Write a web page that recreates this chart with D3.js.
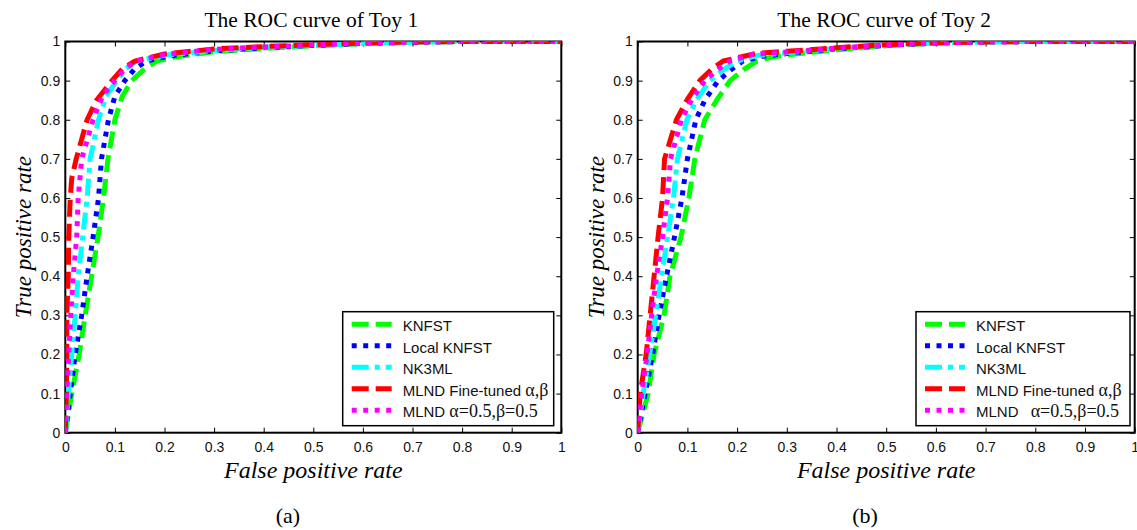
<!DOCTYPE html>
<html>
<head>
<meta charset="utf-8">
<script src="https://cdn.jsdelivr.net/npm/d3@7"></script>
<style>
body { margin: 0; background: #fff; }
</style>
</head>
<body>
<div id="roc"></div>
<script>
// legend names (sans part + greek serif part)
var methods = ["KNFST", "Local KNFST", "NK3ML", "MLND Fine-tuned ", "MLND "];
var methodGreek = ["", "", "", "α,β", "α=0.5,β=0.5"];
var colors = ["#00ff00", "#0000ff", "#00ffff", "#ff0000", "#ff00ff"];
var dashes = ["17,7", "5,6.5", "17,6,5,6", "17,7", "5,6.5"];
var tickVals = [0, 0.1, 0.2, 0.3, 0.4, 0.5, 0.6, 0.7, 0.8, 0.9, 1];

// Toy 1 : false positive rate / true positive rate per method
var toy1_knfst_fpr = [0, 0.013, 0.028, 0.040, 0.053, 0.066, 0.077, 0.086, 0.100, 0.115, 0.134, 0.160, 0.184, 0.22, 0.30, 0.40, 0.50, 0.60, 0.70, 0.80, 1];
var toy1_knfst_tpr = [0, 0.1, 0.2, 0.3, 0.4, 0.5, 0.6, 0.7, 0.8, 0.86, 0.9, 0.93, 0.95, 0.96, 0.974, 0.982, 0.989, 0.994, 0.998, 1, 1];
var toy1_local_fpr = [0, 0.010, 0.020, 0.033, 0.044, 0.056, 0.067, 0.073, 0.087, 0.100, 0.120, 0.140, 0.164, 0.21, 0.30, 0.40, 0.50, 0.60, 0.70, 0.80, 1];
var toy1_local_tpr = [0, 0.1, 0.2, 0.3, 0.4, 0.5, 0.6, 0.7, 0.8, 0.86, 0.9, 0.93, 0.95, 0.963, 0.976, 0.984, 0.99, 0.995, 0.998, 1, 1];
var toy1_nk3ml_fpr = [0, 0.006, 0.013, 0.020, 0.026, 0.035, 0.044, 0.050, 0.067, 0.082, 0.104, 0.122, 0.144, 0.20, 0.30, 0.40, 0.50, 0.60, 0.70, 0.80, 1];
var toy1_nk3ml_tpr = [0, 0.1, 0.2, 0.3, 0.4, 0.5, 0.6, 0.7, 0.8, 0.86, 0.9, 0.93, 0.95, 0.965, 0.977, 0.985, 0.99, 0.995, 0.998, 1, 1];
var toy1_mlndft_fpr = [0, 0.002, 0.003, 0.003, 0.006, 0.007, 0.010, 0.013, 0.022, 0.044, 0.063, 0.094, 0.115, 0.140, 0.20, 0.30, 0.40, 0.50, 0.60, 0.70, 0.80, 1];
var toy1_mlndft_tpr = [0, 0.1, 0.2, 0.3, 0.4, 0.5, 0.6, 0.65, 0.7, 0.8, 0.85, 0.9, 0.93, 0.95, 0.968, 0.981, 0.987, 0.992, 0.996, 0.999, 1, 1];
var toy1_mlnd_fpr = [0, 0.003, 0.007, 0.011, 0.016, 0.023, 0.026, 0.033, 0.056, 0.075, 0.100, 0.120, 0.143, 0.20, 0.30, 0.40, 0.50, 0.60, 0.70, 0.80, 1];
var toy1_mlnd_tpr = [0, 0.1, 0.2, 0.3, 0.4, 0.5, 0.6, 0.7, 0.8, 0.86, 0.9, 0.93, 0.95, 0.967, 0.98, 0.986, 0.991, 0.996, 0.999, 1, 1];

// Toy 2
var toy2_knfst_fpr = [0, 0.021, 0.033, 0.053, 0.065, 0.087, 0.103, 0.115, 0.135, 0.159, 0.186, 0.215, 0.24, 0.27, 0.30, 0.40, 0.50, 0.60, 0.70, 0.80, 1];
var toy2_knfst_tpr = [0, 0.1, 0.2, 0.3, 0.4, 0.5, 0.6, 0.7, 0.8, 0.85, 0.9, 0.93, 0.95, 0.96, 0.966, 0.979, 0.989, 0.996, 0.999, 1, 1];
var toy2_local_fpr = [0, 0.015, 0.030, 0.043, 0.058, 0.074, 0.089, 0.100, 0.117, 0.135, 0.162, 0.190, 0.212, 0.25, 0.30, 0.40, 0.50, 0.60, 0.70, 0.80, 1];
var toy2_local_tpr = [0, 0.1, 0.2, 0.3, 0.4, 0.5, 0.6, 0.7, 0.8, 0.85, 0.9, 0.93, 0.95, 0.962, 0.969, 0.981, 0.99, 0.996, 0.999, 1, 1];
var toy2_nk3ml_fpr = [0, 0.011, 0.024, 0.036, 0.048, 0.060, 0.072, 0.080, 0.099, 0.118, 0.145, 0.175, 0.200, 0.24, 0.30, 0.40, 0.50, 0.60, 0.70, 0.80, 1];
var toy2_nk3ml_tpr = [0, 0.1, 0.2, 0.3, 0.4, 0.5, 0.6, 0.7, 0.8, 0.85, 0.9, 0.93, 0.95, 0.964, 0.971, 0.982, 0.991, 0.996, 0.999, 1, 1];
var toy2_mlndft_fpr = [0, 0.005, 0.017, 0.025, 0.033, 0.041, 0.050, 0.054, 0.078, 0.099, 0.125, 0.150, 0.172, 0.24, 0.30, 0.40, 0.50, 0.60, 0.70, 0.80, 1];
var toy2_mlndft_tpr = [0, 0.1, 0.2, 0.3, 0.4, 0.5, 0.6, 0.7, 0.8, 0.85, 0.9, 0.93, 0.95, 0.97, 0.975, 0.984, 0.992, 0.997, 0.999, 1, 1];
var toy2_mlnd_fpr = [0, 0.008, 0.019, 0.028, 0.038, 0.050, 0.060, 0.066, 0.088, 0.108, 0.135, 0.163, 0.186, 0.23, 0.30, 0.40, 0.50, 0.60, 0.70, 0.80, 1];
var toy2_mlnd_tpr = [0, 0.1, 0.2, 0.3, 0.4, 0.5, 0.6, 0.7, 0.8, 0.85, 0.9, 0.93, 0.95, 0.967, 0.973, 0.983, 0.991, 0.996, 0.999, 1, 1];

function zipCurve(fpr, tpr) {
    return fpr.map(function (f, i) { return [f, tpr[i]]; });
}

var panels = [
    { title: "The ROC curve of Toy 1", tag: "(a)", left: 65.3, right: 561.3, tagX: 288, legLeft: 342.7, legW: 211, greekGap: [0, 0, 0, 0, 0],
      curves: [zipCurve(toy1_knfst_fpr, toy1_knfst_tpr), zipCurve(toy1_local_fpr, toy1_local_tpr), zipCurve(toy1_nk3ml_fpr, toy1_nk3ml_tpr),
               zipCurve(toy1_mlndft_fpr, toy1_mlndft_tpr), zipCurve(toy1_mlnd_fpr, toy1_mlnd_tpr)] },
    { title: "The ROC curve of Toy 2", tag: "(b)", left: 637.7, right: 1134.7, tagX: 865, legLeft: 916, legW: 214, greekGap: [0, 0, 0, 0, 8],
      curves: [zipCurve(toy2_knfst_fpr, toy2_knfst_tpr), zipCurve(toy2_local_fpr, toy2_local_tpr), zipCurve(toy2_nk3ml_fpr, toy2_nk3ml_tpr),
               zipCurve(toy2_mlndft_fpr, toy2_mlndft_tpr), zipCurve(toy2_mlnd_fpr, toy2_mlnd_tpr)] }
];

var top_ = 41.5, bottom_ = 432.7;
var fmt = d3.format("~g");
var serif = "'Liberation Serif', 'Times New Roman', serif";

var svg = d3.select("#roc")
    .append("svg")
    .attr("width", 1137)
    .attr("height", 530)
    .style("display", "block");

panels.forEach(function (p, k) {

    var x = d3.scaleLinear().domain([0, 1]).range([p.left, p.right]);
    var y = d3.scaleLinear().domain([0, 1]).range([bottom_, top_]);
    var g = svg.append("g");

    // axes with inward ticks on all four sides
    g.append("g")
        .attr("transform", `translate(0, ${bottom_})`)
        .call(d3.axisBottom(x).tickValues(tickVals).tickFormat(fmt).tickSizeInner(-5).tickSizeOuter(0).tickPadding(9));
    g.append("g")
        .attr("transform", `translate(${p.left}, 0)`)
        .call(d3.axisLeft(y).tickValues(tickVals).tickFormat(fmt).tickSizeInner(-5).tickSizeOuter(0).tickPadding(5));
    g.append("g")
        .attr("transform", `translate(0, ${top_})`)
        .call(d3.axisTop(x).tickValues(tickVals).tickFormat("").tickSizeInner(-5).tickSizeOuter(0));
    g.append("g")
        .attr("transform", `translate(${p.right}, 0)`)
        .call(d3.axisRight(y).tickValues(tickVals).tickFormat("").tickSizeInner(-5).tickSizeOuter(0));

    g.selectAll(".domain").remove();
    g.selectAll(".tick line").attr("stroke", "#000").attr("stroke-width", 1);
    g.selectAll(".tick text")
        .attr("fill", "#111")
        .style("font-family", "'Liberation Sans', Arial, sans-serif")
        .style("font-size", "14px");

    g.append("rect")
        .attr("x", p.left)
        .attr("y", top_)
        .attr("width", p.right - p.left)
        .attr("height", bottom_ - top_)
        .attr("fill", "none")
        .attr("stroke", "#000")
        .attr("stroke-width", 2);

    // curves, clipped to the plot box
    svg.append("defs").append("clipPath")
        .attr("id", "clip" + k)
        .append("rect")
        .attr("x", p.left)
        .attr("y", top_)
        .attr("width", p.right - p.left)
        .attr("height", bottom_ - top_);

    var line = d3.line()
        .x(function (d) { return x(d[0]); })
        .y(function (d) { return y(d[1]); });

    g.append("g")
        .attr("clip-path", `url(#clip${k})`)
        .selectAll("path")
        .data(p.curves)
        .enter()
        .append("path")
        .attr("d", line)
        .attr("fill", "none")
        .attr("stroke", function (d, i) { return colors[i]; })
        .attr("stroke-width", 5)
        .attr("stroke-dasharray", function (d, i) { return dashes[i]; })
        .attr("stroke-linejoin", "round");

    // titles and labels
    g.append("text")
        .attr("x", (p.left + p.right) / 2 - 2)
        .attr("y", 27)
        .attr("text-anchor", "middle")
        .style("font-family", serif)
        .style("font-size", "21.5px")
        .text(p.title);

    g.append("text")
        .attr("x", (p.left + p.right) / 2)
        .attr("y", 478)
        .attr("text-anchor", "middle")
        .style("font-family", serif)
        .style("font-style", "italic")
        .style("font-size", "24px")
        .text("False positive rate");

    g.append("text")
        .attr("transform", `translate(${p.left - 34}, ${(top_ + bottom_) / 2}) rotate(-90)`)
        .attr("text-anchor", "middle")
        .style("font-family", serif)
        .style("font-style", "italic")
        .style("font-size", "23px")
        .text("True positive rate");

    g.append("text")
        .attr("x", p.tagX)
        .attr("y", 523)
        .attr("text-anchor", "middle")
        .style("font-family", serif)
        .style("font-size", "22px")
        .text(p.tag);

    // legend
    var legTop = 311.7;
    var leg = g.append("g").attr("transform", `translate(${p.legLeft}, ${legTop})`);
    leg.append("rect")
        .attr("width", p.legW)
        .attr("height", 114)
        .attr("fill", "#fff")
        .attr("stroke", "#000")
        .attr("stroke-width", 1.5);

    var rows = leg.selectAll(".row")
        .data(methods)
        .enter()
        .append("g")
        .attr("transform", function (d, i) { return `translate(0, ${12.5 + i * 21.5})`; });

    rows.append("line")
        .attr("x1", 9)
        .attr("x2", 49)
        .attr("stroke", function (d, i) { return colors[i]; })
        .attr("stroke-width", 5)
        .attr("stroke-dasharray", function (d, i) { return dashes[i]; });

    var txt = rows.append("text")
        .attr("x", 60)
        .attr("y", 7)
        .style("font-family", "'Liberation Sans', Arial, sans-serif")
        .style("font-size", "15px")
        .attr("fill", "#111");
    txt.append("tspan").text(function (d) { return d; });
    txt.append("tspan")
        .attr("dx", function (d, i) { return p.greekGap[i]; })
        .style("font-family", serif)
        .style("font-size", "18px")
        .text(function (d, i) { return methodGreek[i]; });
});
</script>
</body>
</html>
